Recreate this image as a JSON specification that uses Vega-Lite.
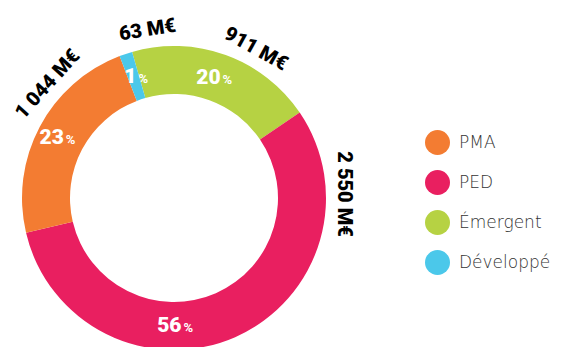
{
  "$schema": "https://vega.github.io/schema/vega-lite/v6.json",
  "width": 348,
  "height": 396,
  "autosize": {"type": "none"},
  "padding": {"left": 0, "top": 0, "right": 215, "bottom": 0},
  "background": "white",
  "data": {
    "values": [
      {"cat": "Émergent", "value": 911, "pct": "20", "label": "911 M€", "ord": 1},
      {"cat": "PED", "value": 2550, "pct": "56", "label": "2 550 M€", "ord": 2},
      {"cat": "PMA", "value": 1044, "pct": "23", "label": "1 044 M€", "ord": 3},
      {"cat": "Développé", "value": 63, "pct": "1", "label": "63 M€", "ord": 4}
    ]
  },
  "encoding": {
    "theta": {"field": "value", "type": "quantitative", "stack": true, "scale": {"range": [-0.2793, 6.0039]}},
    "order": {"field": "ord", "type": "quantitative"}
  },
  "layer": [
    {
      "mark": {"type": "arc", "radius": 152, "radius2": 104, "stroke": null},
      "encoding": {
        "color": {
          "field": "cat", "type": "nominal",
          "scale": {"domain": ["PMA", "PED", "Émergent", "Développé"], "range": ["#F37C32", "#E91F60", "#B6D243", "#4BC8EA"]},
          "legend": {
            "title": null, "orient": "none", "legendX": 425, "legendY": 130,
            "symbolType": "circle", "symbolSize": 625, "symbolStrokeWidth": 0,
            "labelFont": "DejaVu Sans", "labelFontWeight": 200, "labelFontSize": 17, "labelColor": "#333333",
            "labelOffset": 9, "rowPadding": 15, "padding": 0
          }
        }
      }
    },
    {
      "mark": {"type": "text", "radius": 128, "align": "right", "baseline": "middle", "dx": 3, "font": "Roboto", "fontWeight": 900, "fontSize": 21, "color": "white"},
      "encoding": {"text": {"condition": {"test": "datum.cat !== 'PED'", "field": "pct"}, "value": ""}}
    },
    {
      "mark": {"type": "text", "radius": 128, "align": "left", "baseline": "middle", "dx": 5, "dy": 2, "font": "Roboto", "fontWeight": "bold", "fontSize": 13, "color": "white"},
      "encoding": {"text": {"condition": {"test": "datum.cat !== 'PED'", "value": "%"}, "value": ""}}
    },
    {
      "mark": {"type": "text", "radius": 128, "thetaOffset": 0.379, "align": "right", "baseline": "middle", "dx": 3, "font": "Roboto", "fontWeight": 900, "fontSize": 21, "color": "white"},
      "encoding": {"text": {"condition": {"test": "datum.cat === 'PED'", "field": "pct"}, "value": ""}}
    },
    {
      "mark": {"type": "text", "radius": 128, "thetaOffset": 0.379, "align": "left", "baseline": "middle", "dx": 5, "dy": 2, "font": "Roboto", "fontWeight": "bold", "fontSize": 13, "color": "white"},
      "encoding": {"text": {"condition": {"test": "datum.cat === 'PED'", "value": "%"}, "value": ""}}
    },
    {
      "mark": {"type": "text", "radius": 170, "thetaOffset": 0.246, "angle": -48, "align": "center", "baseline": "middle", "font": "Roboto", "fontWeight": 900, "fontSize": 20, "color": "black"},
      "encoding": {"text": {"condition": {"test": "datum.cat === 'PMA'", "field": "label"}, "value": ""}}
    },
    {
      "mark": {"type": "text", "radius": 170, "thetaOffset": 0.166, "angle": -9, "align": "center", "baseline": "middle", "font": "Roboto", "fontWeight": 900, "fontSize": 20, "color": "black"},
      "encoding": {"text": {"condition": {"test": "datum.cat === 'Développé'", "field": "label"}, "value": ""}}
    },
    {
      "mark": {"type": "text", "radius": 170, "thetaOffset": 0.155, "angle": 29, "align": "center", "baseline": "middle", "font": "Roboto", "fontWeight": 900, "fontSize": 20, "color": "black"},
      "encoding": {"text": {"condition": {"test": "datum.cat === 'Émergent'", "field": "label"}, "value": ""}}
    },
    {
      "mark": {"type": "text", "radius": 170, "thetaOffset": -1.18, "angle": 90, "align": "center", "baseline": "middle", "font": "Roboto", "fontWeight": 900, "fontSize": 20, "color": "black"},
      "encoding": {"text": {"condition": {"test": "datum.cat === 'PED'", "field": "label"}, "value": ""}}
    }
  ],
  "config": {"view": {"stroke": null}}
}
